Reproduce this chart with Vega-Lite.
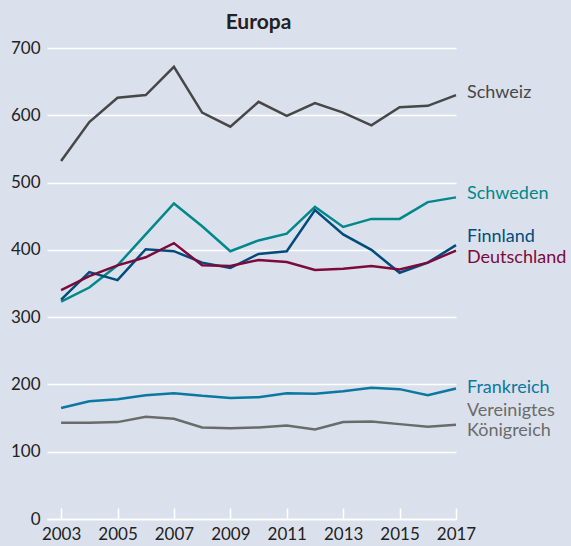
{
  "$schema": "https://vega.github.io/schema/vega-lite/v6.json",
  "autosize": {"type": "none"},
  "width": 409,
  "height": 471,
  "padding": {"left": 47, "top": 48, "right": 115, "bottom": 27},
  "background": "#dbe1ec",
  "title": {"text": "Europa", "font": "Lato", "fontSize": 21, "fontWeight": "bold", "color": "#222222", "anchor": "middle", "offset": 6, "dx": 7},
  "config": {
    "view": {"stroke": null},
    "font": "Lato"
  },
  "datasets": {
    "lines": [
      {"country": "Schweiz", "year": 2003, "value": 532}, {"country": "Schweiz", "year": 2004, "value": 590}, {"country": "Schweiz", "year": 2005, "value": 626}, {"country": "Schweiz", "year": 2006, "value": 630}, {"country": "Schweiz", "year": 2007, "value": 672}, {"country": "Schweiz", "year": 2008, "value": 604}, {"country": "Schweiz", "year": 2009, "value": 583}, {"country": "Schweiz", "year": 2010, "value": 620}, {"country": "Schweiz", "year": 2011, "value": 599}, {"country": "Schweiz", "year": 2012, "value": 618}, {"country": "Schweiz", "year": 2013, "value": 604}, {"country": "Schweiz", "year": 2014, "value": 585}, {"country": "Schweiz", "year": 2015, "value": 612}, {"country": "Schweiz", "year": 2016, "value": 614}, {"country": "Schweiz", "year": 2017, "value": 630},
      {"country": "Schweden", "year": 2003, "value": 323}, {"country": "Schweden", "year": 2004, "value": 344}, {"country": "Schweden", "year": 2005, "value": 377}, {"country": "Schweden", "year": 2006, "value": 423}, {"country": "Schweden", "year": 2007, "value": 469}, {"country": "Schweden", "year": 2008, "value": 435}, {"country": "Schweden", "year": 2009, "value": 398}, {"country": "Schweden", "year": 2010, "value": 414}, {"country": "Schweden", "year": 2011, "value": 424}, {"country": "Schweden", "year": 2012, "value": 464}, {"country": "Schweden", "year": 2013, "value": 434}, {"country": "Schweden", "year": 2014, "value": 446}, {"country": "Schweden", "year": 2015, "value": 446}, {"country": "Schweden", "year": 2016, "value": 471}, {"country": "Schweden", "year": 2017, "value": 478},
      {"country": "Finnland", "year": 2003, "value": 326}, {"country": "Finnland", "year": 2004, "value": 367}, {"country": "Finnland", "year": 2005, "value": 355}, {"country": "Finnland", "year": 2006, "value": 401}, {"country": "Finnland", "year": 2007, "value": 398}, {"country": "Finnland", "year": 2008, "value": 381}, {"country": "Finnland", "year": 2009, "value": 373}, {"country": "Finnland", "year": 2010, "value": 394}, {"country": "Finnland", "year": 2011, "value": 398}, {"country": "Finnland", "year": 2012, "value": 459}, {"country": "Finnland", "year": 2013, "value": 423}, {"country": "Finnland", "year": 2014, "value": 400}, {"country": "Finnland", "year": 2015, "value": 366}, {"country": "Finnland", "year": 2016, "value": 381}, {"country": "Finnland", "year": 2017, "value": 407},
      {"country": "Deutschland", "year": 2003, "value": 340}, {"country": "Deutschland", "year": 2004, "value": 361}, {"country": "Deutschland", "year": 2005, "value": 377}, {"country": "Deutschland", "year": 2006, "value": 389}, {"country": "Deutschland", "year": 2007, "value": 410}, {"country": "Deutschland", "year": 2008, "value": 377}, {"country": "Deutschland", "year": 2009, "value": 376}, {"country": "Deutschland", "year": 2010, "value": 385}, {"country": "Deutschland", "year": 2011, "value": 382}, {"country": "Deutschland", "year": 2012, "value": 370}, {"country": "Deutschland", "year": 2013, "value": 372}, {"country": "Deutschland", "year": 2014, "value": 376}, {"country": "Deutschland", "year": 2015, "value": 371}, {"country": "Deutschland", "year": 2016, "value": 381}, {"country": "Deutschland", "year": 2017, "value": 399},
      {"country": "Frankreich", "year": 2003, "value": 165}, {"country": "Frankreich", "year": 2004, "value": 175}, {"country": "Frankreich", "year": 2005, "value": 178}, {"country": "Frankreich", "year": 2006, "value": 184}, {"country": "Frankreich", "year": 2007, "value": 187}, {"country": "Frankreich", "year": 2008, "value": 183}, {"country": "Frankreich", "year": 2009, "value": 180}, {"country": "Frankreich", "year": 2010, "value": 181}, {"country": "Frankreich", "year": 2011, "value": 187}, {"country": "Frankreich", "year": 2012, "value": 186}, {"country": "Frankreich", "year": 2013, "value": 190}, {"country": "Frankreich", "year": 2014, "value": 195}, {"country": "Frankreich", "year": 2015, "value": 193}, {"country": "Frankreich", "year": 2016, "value": 184}, {"country": "Frankreich", "year": 2017, "value": 194},
      {"country": "Vereinigtes Königreich", "year": 2003, "value": 143}, {"country": "Vereinigtes Königreich", "year": 2004, "value": 143}, {"country": "Vereinigtes Königreich", "year": 2005, "value": 144}, {"country": "Vereinigtes Königreich", "year": 2006, "value": 152}, {"country": "Vereinigtes Königreich", "year": 2007, "value": 149}, {"country": "Vereinigtes Königreich", "year": 2008, "value": 136}, {"country": "Vereinigtes Königreich", "year": 2009, "value": 135}, {"country": "Vereinigtes Königreich", "year": 2010, "value": 136}, {"country": "Vereinigtes Königreich", "year": 2011, "value": 139}, {"country": "Vereinigtes Königreich", "year": 2012, "value": 133}, {"country": "Vereinigtes Königreich", "year": 2013, "value": 144}, {"country": "Vereinigtes Königreich", "year": 2014, "value": 145}, {"country": "Vereinigtes Königreich", "year": 2015, "value": 141}, {"country": "Vereinigtes Königreich", "year": 2016, "value": 137}, {"country": "Vereinigtes Königreich", "year": 2017, "value": 140}
    ],
    "labels": [
      {"country": "Schweiz", "text": "Schweiz", "year": 2017, "value": 633},
      {"country": "Schweden", "text": "Schweden", "year": 2017, "value": 483},
      {"country": "Finnland", "text": "Finnland", "year": 2017, "value": 419},
      {"country": "Deutschland", "text": "Deutschland", "year": 2017, "value": 388},
      {"country": "Frankreich", "text": "Frankreich", "year": 2017, "value": 195},
      {"country": "Vereinigtes Königreich", "text": "Vereinigtes", "year": 2017, "value": 161},
      {"country": "Vereinigtes Königreich", "text": "Königreich", "year": 2017, "value": 131}
    ]
  },
  "layer": [
    {
      "data": {"name": "lines"},
      "mark": {"type": "line", "strokeWidth": 2.5, "clip": false},
      "encoding": {
        "x": {
          "field": "year", "type": "quantitative",
          "scale": {"domain": [2002.5, 2017], "nice": false, "zero": false},
          "axis": {
            "title": null,
            "values": [2003, 2004, 2005, 2006, 2007, 2008, 2009, 2010, 2011, 2012, 2013, 2014, 2015, 2016, 2017],
            "labelExpr": "datum.value % 2 == 1 ? datum.label : ''",
            "format": "d",
            "grid": false,
            "domain": true, "domainColor": "#ffffff", "domainWidth": 1.5,
            "ticks": true, "tickColor": "#ffffff", "tickWidth": 1.5, "tickSize": -11,
            "labelFont": "Lato", "labelFontSize": 17, "labelColor": "#222222", "labelPadding": 18,
            "labelFlush": false
          }
        },
        "y": {
          "field": "value", "type": "quantitative",
          "scale": {"domain": [0, 700], "nice": false},
          "axis": {
            "title": null,
            "values": [0, 100, 200, 300, 400, 500, 600, 700],
            "grid": true, "gridColor": "#ffffff", "gridWidth": 1.5,
            "domain": false, "ticks": false,
            "labelFont": "Lato", "labelFontSize": 17, "labelColor": "#222222", "labelPadding": 7
          }
        },
        "color": {
          "field": "country", "type": "nominal",
          "scale": {
            "domain": ["Schweiz", "Schweden", "Finnland", "Deutschland", "Frankreich", "Vereinigtes Königreich"],
            "range": ["#474747", "#00888a", "#004c7c", "#7c0a3b", "#0a78a0", "#6b6b6b"]
          },
          "legend": null
        }
      }
    },
    {
      "data": {"name": "labels"},
      "mark": {"type": "text", "align": "left", "baseline": "middle", "dx": 11, "font": "Lato", "fontSize": 18, "clip": false},
      "encoding": {
        "x": {"field": "year", "type": "quantitative"},
        "y": {"field": "value", "type": "quantitative"},
        "text": {"field": "text"},
        "color": {
          "field": "country", "type": "nominal",
          "scale": {
            "domain": ["Schweiz", "Schweden", "Finnland", "Deutschland", "Frankreich", "Vereinigtes Königreich"],
            "range": ["#2b2b2b", "#00888a", "#004c7c", "#7c0a3b", "#0a78a0", "#5e5e5e"]
          },
          "legend": null
        }
      }
    }
  ]
}
